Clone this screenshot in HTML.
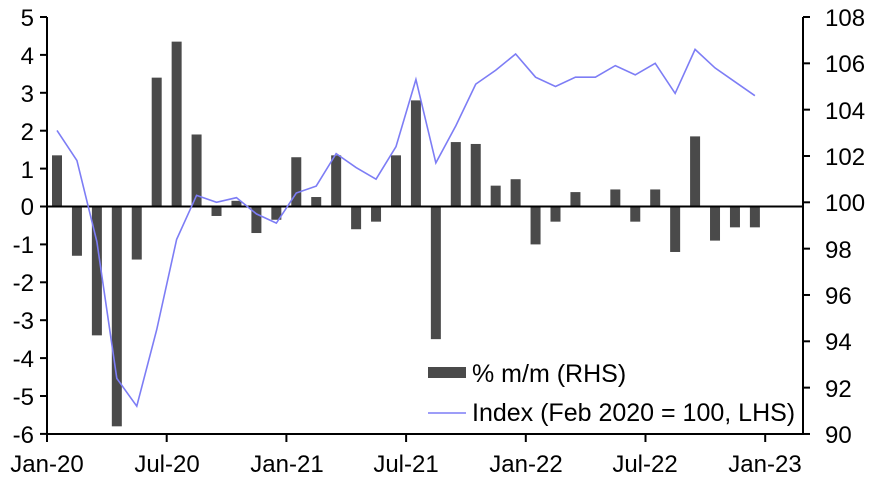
<!DOCTYPE html>
<html><head><style>
html,body{margin:0;padding:0;background:#fff;}
svg{display:block;font-family:"Liberation Sans",Arial,sans-serif;}
</style></head><body>
<svg id="c" width="869" height="481" viewBox="0 0 869 481">
<g font-size="24" fill="#000" text-anchor="end">
<text x="34" y="26">5</text><text x="34" y="64">4</text><text x="34" y="102">3</text>
<text x="34" y="140">2</text><text x="34" y="178">1</text><text x="34" y="215">0</text>
<text x="34" y="253">-1</text><text x="34" y="291">-2</text><text x="34" y="329">-3</text>
<text x="34" y="367">-4</text><text x="34" y="405">-5</text><text x="34" y="443">-6</text>
</g>
<g font-size="24" fill="#000" text-anchor="start">
<text x="825" y="26">108</text><text x="825" y="72">106</text><text x="825" y="119">104</text>
<text x="825" y="165">102</text><text x="825" y="211">100</text><text x="825" y="258">98</text>
<text x="825" y="304">96</text><text x="825" y="350">94</text><text x="825" y="397">92</text>
<text x="825" y="443">90</text>
</g>
<g font-size="24" fill="#000" text-anchor="middle">
<text x="47" y="472">Jan-20</text><text x="167" y="472">Jul-20</text><text x="287" y="472">Jan-21</text>
<text x="406" y="472">Jul-21</text><text x="526" y="472">Jan-22</text><text x="645" y="472">Jul-22</text>
<text x="765" y="472">Jan-23</text>
</g>
<g id="bars" fill="#4a4a4a"></g>
<g id="axes" stroke="#000" stroke-width="2"></g>
<polyline id="ln" fill="none" stroke="#7d7df5" stroke-width="1.6"/>
<rect x="428" y="367" width="38" height="11" fill="#4a4a4a"/>
<text x="472" y="382" font-size="25">% m/m (RHS)</text>
<line x1="428" y1="413" x2="466" y2="413" stroke="#7d7df5" stroke-width="1.6"/>
<text x="472" y="421" font-size="25">Index (Feb 2020 = 100, LHS)</text>
</svg>
<script>
var bv=[1.35,-1.3,-3.4,-5.8,-1.4,3.4,4.35,1.9,-0.25,0.15,-0.7,-0.35,1.3,0.25,1.35,-0.6,-0.4,1.35,2.8,-3.5,1.7,1.65,0.55,0.72,-1.0,-0.4,0.38,0,0.45,-0.4,0.45,-1.2,1.85,-0.9,-0.55,-0.55];
var lv=[103.1,101.8,98.3,92.4,91.2,94.5,98.4,100.3,100.0,100.2,99.5,99.1,100.4,100.7,102.1,101.5,101.0,102.4,105.3,101.7,103.3,105.1,105.7,106.4,105.4,105.0,105.4,105.4,105.9,105.5,106.0,104.7,106.6,105.8,105.2,104.6];
var ns="http://www.w3.org/2000/svg",b=document.getElementById('bars'),a=document.getElementById('axes');
function X(i){return 47+19.94*i+10;}
function yl(v){return 206.5-v*37.9;}
function yr(v){return 434-(v-90)*23.17;}
bv.forEach(function(v,i){var r=document.createElementNS(ns,'rect');var y0=yl(0),y1=yl(v);
r.setAttribute('x',X(i)-5);r.setAttribute('width',10);r.setAttribute('y',Math.min(y0,y1));r.setAttribute('height',Math.abs(y1-y0));b.appendChild(r);});
document.getElementById('ln').setAttribute('points',lv.map(function(v,i){return X(i)+','+yr(v);}).join(' '));
function L(x1,y1,x2,y2){var l=document.createElementNS(ns,'line');l.setAttribute('x1',x1);l.setAttribute('y1',y1);l.setAttribute('x2',x2);l.setAttribute('y2',y2);a.appendChild(l);}
L(47,17,47,435);L(46,434,804,434);L(803,17,803,435);L(47,206.5,803,206.5);
for(var k=0;k<12;k++){L(40,yl(5-k),47,yl(5-k));}
for(var k=0;k<10;k++){var y=17+k*46.33;L(803,y,810,y);}
for(var k=0;k<7;k++){var x=47+119.7*k;L(x,434,x,442);}
</script>
</body></html>
